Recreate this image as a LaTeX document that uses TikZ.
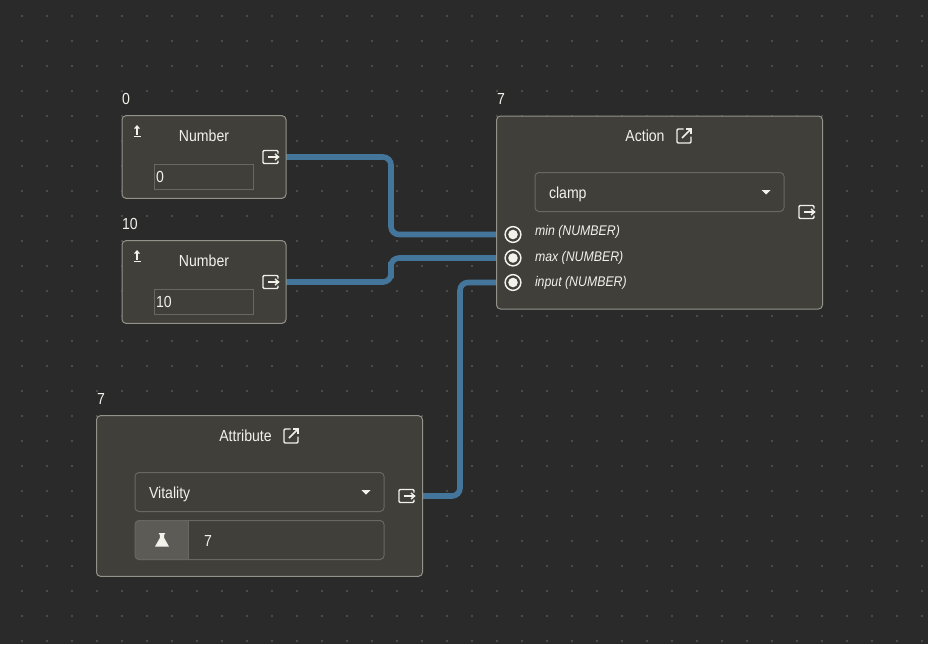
\documentclass[tikz,border=0pt]{standalone}
\usepackage{fontspec}
\setmainfont[FakeStretch=0.88,ItalicFeatures={FakeStretch=0.88}]{Liberation Sans}
\usetikzlibrary{backgrounds}
\definecolor{canvas}{HTML}{2A2A2A}
\definecolor{griddot}{HTML}{4A4A48}
\definecolor{panel}{HTML}{403F3A}
\definecolor{panelline}{HTML}{93938A}
\definecolor{fieldline}{HTML}{686760}
\definecolor{addon}{HTML}{5C5B55}
\definecolor{wirecol}{HTML}{44769C}
\definecolor{ink}{HTML}{F2F1EA}
\newcommand{\labelfont}{\fontsize{12pt}{14pt}\selectfont}
\newcommand{\smallfont}{\fontsize{10.5pt}{12pt}\selectfont\itshape}
\tikzset{
  x=0.75pt, y=-0.75pt,
  panelbox/.style={draw=panelline, line width=0.75pt, fill=panel, rounded corners=3pt, inner sep=0pt, outer sep=0pt, rectangle},
  fieldbox/.style={draw=fieldline, line width=0.75pt, rounded corners=3pt, inner sep=0pt, outer sep=0pt, rectangle},
  plainfield/.style={draw=fieldline, line width=0.75pt, inner sep=0pt, outer sep=0pt, rectangle},
  txt/.style={text=ink, font=\labelfont, anchor=base west, inner sep=0pt, outer sep=0pt},
  txtmid/.style={text=ink, font=\labelfont, anchor=base, inner sep=0pt, outer sep=0pt},
  argtxt/.style={text=ink, font=\smallfont, anchor=base west, inner sep=0pt, outer sep=0pt},
  wire/.style={draw=wirecol, line width=4.2pt, rounded corners=6pt},
  iconline/.style={draw=ink, line width=1.1pt},
  portring/.style={circle, draw=ink, line width=1.1pt, fill=panel, minimum size=11.8pt, inner sep=0pt, outer sep=0pt},
  exiticon/.pic={
    \draw[iconline, rounded corners=0.8pt] (7.5,-3.5) -- (7.5,-6.5) -- (-7.5,-6.5) -- (-7.5,6.5) -- (7.5,6.5) -- (7.5,3.5);
    \draw[iconline] (-3,0) -- (8,0);
    \draw[iconline] (4.5,-3) -- (8,0) -- (4.5,3);
  },
  linkicon/.pic={
    \draw[iconline, rounded corners=0.8pt] (-0.5,-7) -- (-7,-7) -- (-7,7) -- (7,7) -- (7,0.5);
    \draw[iconline] (-2,2) -- (7,-7);
    \draw[iconline] (2,-7) -- (7,-7) -- (7,-2);
  },
  raiseicon/.pic={
    \draw[iconline] (0,-4.5) -- (0,4);
    \fill[ink] (-3,-2.5) -- (0,-6) -- (3,-2.5) -- cycle;
    \draw[iconline] (-3.5,5.5) -- (3.5,5.5);
  },
  flaskicon/.pic={
    \fill[ink] (-3.2,-7) -- (3.2,-7) -- (3.2,-5.6) -- (2.2,-5.6) -- (2.2,-2) -- (7,6.6) -- (-7,6.6) -- (-2.2,-2) -- (-2.2,-5.6) -- (-3.2,-5.6) -- cycle;
  },
  careticon/.pic={
    \fill[ink] (-4.5,-2) -- (4.5,-2) -- (0,2.5) -- cycle;
  }
}
\begin{document}
\begin{tikzpicture}
\useasboundingbox (0,0) rectangle (928,644);
\begin{scope}[on background layer]
  \fill[canvas] (0,0) rectangle (928,644);
  % dotted canvas grid
  \foreach \gx in {22,47,...,922}
    \foreach \gy in {16,41,...,641}
      \fill[griddot] (\gx-1,\gy-1) rectangle (\gx+1,\gy+1);
\end{scope}

% panels
\node[panelbox, minimum width=123pt, minimum height=62pt] (numA) at (204,157) {};
\node[panelbox, minimum width=123pt, minimum height=62pt] (numB) at (204,282) {};
\node[panelbox, minimum width=244.5pt, minimum height=144.75pt] (action) at (659.5,212.5) {};
\node[panelbox, minimum width=244.5pt, minimum height=120.5pt] (attr) at (259.5,496) {};

% values above the panels
\node[txt] (valA) at (122,104) {0};
\node[txt] (valB) at (122,229) {10};
\node[txt] (valC) at (497,104) {7};
\node[txt] (valD) at (97,404) {7};

% number panels
\node[txtmid] (titleA) at (204,141) {Number};
\node[txtmid] (titleB) at (204,266) {Number};
\node[plainfield, minimum width=74.25pt, minimum height=18.75pt] (inA) at (204,177) {};
\node[plainfield, minimum width=74.25pt, minimum height=18.75pt] (inB) at (204,302) {};
\node[txt] (inAtxt) at (156,182) {0};
\node[txt] (inBtxt) at (156,307) {10};
\pic at (137,131) {raiseicon};
\pic at (137,256) {raiseicon};
\pic at (270.5,157) {exiticon};
\pic at (270.5,282) {exiticon};

% action panel
\node[txtmid] (titleAct) at (645,141) {Action};
\pic at (684,136) {linkicon};
\node[fieldbox, minimum width=186.75pt, minimum height=29.25pt] (selAct) at (659.5,192) {};
\node[txt] (selActTxt) at (549,198) {clamp};
\pic at (766,192) {careticon};
\pic at (806.5,212) {exiticon};
\node[argtxt] (argMin) at (535,235) {min (NUMBER)};
\node[argtxt] (argMax) at (535,261) {max (NUMBER)};
\node[argtxt] (argInp) at (535,286) {input (NUMBER)};
\node[portring] (pMin) at (513,234.5) {};
\node[portring] (pMax) at (513,258) {};
\node[portring] (pInp) at (513,282.5) {};
\foreach \p in {pMin,pMax,pInp}
  \fill[ink] (\p.center) circle (3.6pt);

% attribute panel
\node[txtmid] (titleAttr) at (245.5,441) {Attribute};
\pic at (291,436) {linkicon};
\node[fieldbox, minimum width=186.75pt, minimum height=29.25pt] (selAttr) at (259.5,492) {};
\node[txt] (selAttrTxt) at (149,498) {Vitality};
\pic at (366,492) {careticon};
\pic at (406.5,496) {exiticon};
\fill[addon, rounded corners=3pt] (135,520) rectangle (188,560);
\fill[addon] (170,520) rectangle (188,560);
\node[fieldbox, minimum width=186.75pt, minimum height=29.25pt] (group) at (259.5,540) {};
\draw[draw=fieldline, line width=0.75pt] (188.5,520) -- (188.5,560);
\pic at (162,540) {flaskicon};
\node[txt] (groupTxt) at (204,546) {7};

% connectors, kept under the panels
\coordinate (busA) at (391,200);
\coordinate (busB) at (391,270);
\coordinate (busC) at (460,400);
\begin{scope}[on background layer]
  \draw[wire] (numA.east) -| (busA) |- (pMin);
  \draw[wire] (numB.east) -| (busB) |- (pMax);
  \draw[wire] (attr.east) -| (busC) |- (pInp);
\end{scope}
\end{tikzpicture}
\end{document}
